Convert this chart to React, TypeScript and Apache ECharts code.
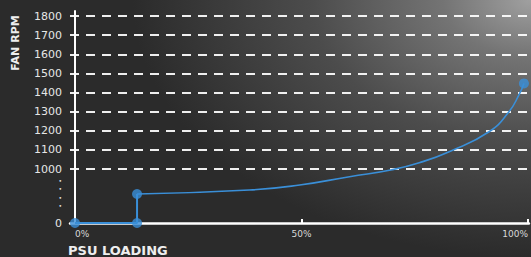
import React, { useEffect, useRef } from "react";
import * as echarts from "echarts";

// PSU loading (%) and fan speed (RPM)
const stepLoad = [0, 13.7, 13.7];
const stepRpm = [0, 0, 538];
const curveLoad = [13.7, 38.5, 49.6, 60.6, 70.0, 76.0, 82.6, 91.4, 95.8, 98.0, 99.1];
const curveRpm = [538, 612, 705, 859, 988, 1033, 1091, 1195, 1300, 1388, 1448];
const dotLoad = [0, 13.7, 13.7, 99.1];
const dotRpm = [0, 0, 538, 1448];

const xTickValues = [0, 50, 100];
const yGridRpm = [1000, 1100, 1200, 1300, 1400, 1500, 1600, 1700, 1800];
const yBreakRpm = 553; // centre of the vertical ellipsis on the broken axis

// broken axis: 0-1000 compressed, 1000+ linear per 100 RPM
const toAxis = (rpm: number) => (rpm <= 1000 ? (rpm / 1000) * 2.82 : 2.82 + (rpm - 1000) / 100);

export default function App() {
  const ref = useRef<HTMLDivElement>(null);
  useEffect(() => {
    if (!ref.current) return;
    const chart = echarts.init(ref.current, null, { renderer: "svg" });
    const labelMap = new Map<string, string>();
    labelMap.set(toAxis(0).toFixed(3), "0");
    yGridRpm.forEach((r) => labelMap.set(toAxis(r).toFixed(3), String(r)));
    labelMap.set(toAxis(yBreakRpm).toFixed(3), "{d|•\n•\n•\n•}");
    const labelValues = [0, yBreakRpm, ...yGridRpm].map(toAxis);
    const blue = "#3a8fd8";
    chart.setOption({
      animation: false,
      backgroundColor: "transparent",
      grid: { left: 70, right: 1, top: 11, bottom: 34 },
      xAxis: {
        type: "value",
        min: -1.1,
        max: 100.2,
        axisLine: { show: true, lineStyle: { color: "#ffffff", width: 2.5 } },
        axisTick: {
          show: true,
          inside: true,
          length: 4,
          lineStyle: { color: "#ffffff", width: 2 },
          customValues: xTickValues,
        },
        axisLabel: {
          customValues: xTickValues,
          formatter: (v: number) => v + "%",
          color: "#d8d8d8",
          fontFamily: "DejaVu Sans",
          fontSize: 9,
          margin: 6,
          alignMinLabel: "left",
          alignMaxLabel: "right",
        },
        splitLine: { show: false },
      },
      yAxis: {
        type: "value",
        min: 0,
        max: 11.085,
        axisLine: { show: true, lineStyle: { color: "#ffffff", width: 2 } },
        axisTick: { show: false, customValues: yGridRpm.map(toAxis) },
        axisLabel: {
          customValues: labelValues,
          formatter: (v: number) => labelMap.get(v.toFixed(3)) ?? "",
          color: "#e6e6e6",
          fontFamily: "DejaVu Sans",
          fontSize: 11,
          margin: 8,
          hideOverlap: false,
          rich: { d: { fontSize: 6, lineHeight: 8.4, color: "#e6e6e6" } },
        },
        splitLine: {
          show: true,
          lineStyle: { color: "rgba(255,255,255,0.92)", width: 2, type: [9, 7] },
        },
      },
      graphic: [
        {
          type: "text",
          x: 15,
          y: 43,
          rotation: Math.PI / 2,
          style: {
            text: "FAN RPM",
            fill: "#eeeeee",
            font: "bold 11px DejaVu Sans",
            align: "center",
            verticalAlign: "middle",
          },
        },
        {
          type: "text",
          x: 68,
          y: 250,
          style: {
            text: "PSU LOADING",
            fill: "#eeeeee",
            font: "bold 13px DejaVu Sans",
            align: "left",
            verticalAlign: "middle",
          },
        },
      ],
      series: [
        {
          type: "line",
          data: stepLoad.map((x, i) => [x, toAxis(stepRpm[i])]),
          showSymbol: false,
          lineStyle: { color: blue, width: 2 },
          z: 3,
        },
        {
          type: "line",
          data: curveLoad.map((x, i) => [x, toAxis(curveRpm[i])]),
          smooth: 0.5,
          showSymbol: false,
          lineStyle: { color: blue, width: 1.6 },
          z: 3,
        },
        {
          type: "scatter",
          data: dotLoad.map((x, i) => [x, toAxis(dotRpm[i])]),
          symbolSize: 10,
          itemStyle: { color: blue },
          z: 4,
        },
      ],
    });
    return () => chart.dispose();
  }, []);
  return (
    <div
      style={{
        position: "absolute",
        left: 0,
        top: 0,
        width: 531,
        height: 257,
        background:
          "radial-gradient(ellipse 75% 100% at 100% 0%, #a0a0a0 0%, #747474 22%, #4c4c4c 55%, rgba(46,46,46,0) 100%), #2b2b2b",
      }}
    >
      <div ref={ref} style={{ width: 531, height: 257 }} />
    </div>
  );
}
